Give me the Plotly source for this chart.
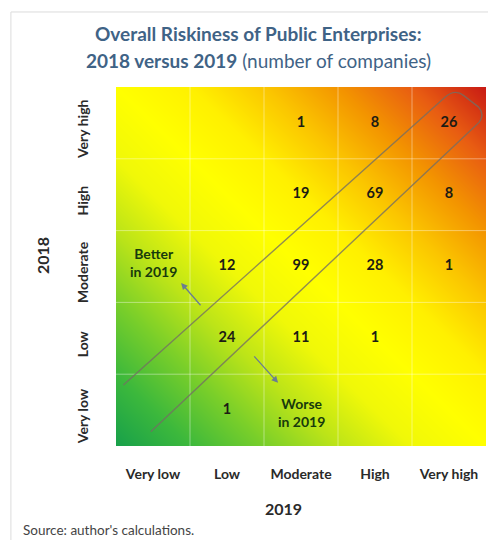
import plotly.graph_objects as go

# ---------------- data ----------------
categories = ["Very low", "Low", "Moderate", "High", "Very high"]
# number of companies: rows = 2018 rating, columns = 2019 rating
counts_2018_very_low = [None, 1, None, None, None]
counts_2018_low = [None, 24, 11, 1, None]
counts_2018_moderate = [None, 12, 99, 28, 1]
counts_2018_high = [None, None, 19, 69, 8]
counts_2018_very_high = [None, None, 1, 8, 26]
count_rows = [counts_2018_very_low, counts_2018_low, counts_2018_moderate,
              counts_2018_high, counts_2018_very_high]

title_line1 = "Overall Riskiness of Public Enterprises:"
title_line2_bold = "2018 versus 2019"
title_line2_rest = " (number of companies)"
source_text = "Source: author's calculations."

FONT = "Lato, 'Open Sans', sans-serif"
n = len(categories)

# ---------------- figure ----------------
fig = go.Figure()

# background risk gradient (green -> yellow -> red along the diagonal)
fig.add_trace(go.Heatmap(
    x=[0, n], y=[0, n], z=[[0, n], [n, 2 * n]],
    zmin=0, zmax=2 * n, zsmooth="best", showscale=False, hoverinfo="skip",
    colorscale=[
        [0.0, "#17a04a"], [0.1, "#3cb83c"], [0.2, "#78ce2a"], [0.3, "#bce418"],
        [0.4, "#f0f808"], [0.5, "#ffff00"], [0.6, "#fff000"], [0.7, "#fbc600"],
        [0.8, "#f39400"], [0.9, "#e85c12"], [1.0, "#c81a14"],
    ],
))

# cell counts
xs, ys, texts = [], [], []
for j, row in enumerate(count_rows):
    for i, v in enumerate(row):
        if v is not None:
            xs.append(i + 0.5)
            ys.append(j + 0.5)
            texts.append(f"<b>{v}</b>")
fig.add_trace(go.Scatter(
    x=xs, y=ys, text=texts, mode="text", hoverinfo="skip",
    textfont=dict(family=FONT, size=14.5, color="#1c1c14"),
    showlegend=False,
))

shapes = []
# faint cell grid
for k in range(1, n):
    shapes.append(dict(type="line", xref="x", yref="y", x0=k, x1=k, y0=0, y1=n,
                       line=dict(color="rgba(255,255,255,0.4)", width=1), layer="above"))
    shapes.append(dict(type="line", xref="x", yref="y", x0=0, x1=n, y0=k, y1=k,
                       line=dict(color="rgba(255,255,255,0.4)", width=1), layer="above"))

# diagonal "no change" band with rounded end
band_path = ("M 0.1 0.85 L 4.45 4.86 Q 4.58 4.98 4.7 4.88 "
             "L 4.9 4.72 Q 5.0 4.6 4.88 4.48 L 0.47 0.2")
shapes.append(dict(type="path", xref="x", yref="y", path=band_path,
                   line=dict(color="rgba(115,110,100,0.78)", width=1.4), layer="above"))

# card border
shapes.append(dict(type="rect", xref="paper", yref="paper",
                   x0=-0.284, x1=1.03, y0=-0.3, y1=1.209,
                   line=dict(color="#dcdcdc", width=1), layer="below"))

annotations = [
    dict(text=f"<b>{title_line1}</b>", xref="paper", yref="paper",
         x=(258 - 116) / 370, y=(446 - 33) / 359, xanchor="center", yanchor="middle",
         showarrow=False, font=dict(family=FONT, size=19, color="#3f6386")),
    dict(text=f"<b>{title_line2_bold}</b>{title_line2_rest}", xref="paper", yref="paper",
         x=(258 - 116) / 370, y=(446 - 60) / 359, xanchor="center", yanchor="middle",
         showarrow=False, font=dict(family=FONT, size=19, color="#3f6386")),
    dict(text="<b>2019</b>", xref="paper", yref="paper",
         x=(283 - 116) / 370, y=(446 - 508) / 359, xanchor="center", yanchor="middle",
         showarrow=False, font=dict(family=FONT, size=16, color="#2a2a2a")),
    dict(text="<b>2018</b>", xref="paper", yref="paper", textangle=-90,
         x=(42 - 116) / 370, y=(446 - 256) / 359, xanchor="center", yanchor="middle",
         showarrow=False, font=dict(family=FONT, size=16, color="#2a2a2a")),
    dict(text=source_text, xref="paper", yref="paper",
         x=(21 - 116) / 370, y=(446 - 530) / 359, xanchor="left", yanchor="middle",
         showarrow=False, font=dict(family=FONT, size=13.5, color="#444444")),
    dict(text="<b>Better<br>in 2019</b>", xref="x", yref="y", x=0.5, y=2.56,
         showarrow=False, font=dict(family=FONT, size=14, color="#173a0c")),
    dict(text="<b>Worse<br>in 2019</b>", xref="x", yref="y", x=2.51, y=0.46,
         showarrow=False, font=dict(family=FONT, size=14, color="#173a0c")),
    dict(text="", xref="x", yref="y", axref="x", ayref="y",
         x=0.88, y=2.27, ax=1.16, ay=1.94, showarrow=True,
         arrowhead=2, arrowsize=1, arrowwidth=1.3, arrowcolor="#6a7d92"),
    dict(text="", xref="x", yref="y", axref="x", ayref="y",
         x=2.19, y=0.88, ax=1.85, ay=1.27, showarrow=True,
         arrowhead=2, arrowsize=1, arrowwidth=1.3, arrowcolor="#6a7d92"),
]

tickvals = [i + 0.5 for i in range(n)]
ticktext = [f"<b>{c}</b>" for c in categories]

fig.update_layout(
    width=488, height=540,
    margin=dict(l=116, r=2, t=87, b=94),
    paper_bgcolor="white", plot_bgcolor="white",
    showlegend=False,
    shapes=shapes, annotations=annotations,
    xaxis=dict(range=[0, n], tickvals=tickvals, ticktext=ticktext,
               showgrid=False, zeroline=False, showline=False, ticks="",
               ticklabelstandoff=18, fixedrange=True,
               tickfont=dict(family=FONT, size=14, color="#2a2a2a")),
    yaxis=dict(range=[0, n], tickvals=tickvals, ticktext=ticktext, tickangle=-90,
               showgrid=False, zeroline=False, showline=False, ticks="",
               ticklabelstandoff=24, ticklabelshift=8, fixedrange=True,
               tickfont=dict(family=FONT, size=14, color="#2a2a2a")),
)

fig.write_html(
    "out.html",
    config={"displayModeBar": False},
    post_script="document.body.style.margin='0px';document.body.style.overflow='hidden';",
)
